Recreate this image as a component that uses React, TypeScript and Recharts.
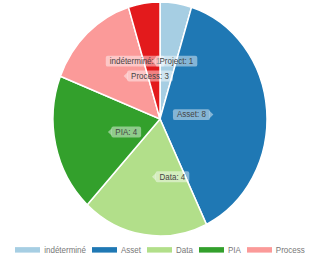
import React from 'react';
import { PieChart, Pie, Cell, Legend } from 'recharts';

const categories = ['indéterminé', 'Asset', 'Data', 'PIA', 'Process', 'Project'];
const counts = [1, 8, 4, 4, 3, 1];
const colors = ['#a6cee3', '#1f78b4', '#b2df8a', '#33a02c', '#fb9a99', '#e31a1c'];
// only the first legend row is visible in the reference, Project wraps off the bottom
const legendShown = 5;

const data = categories.map((name, i) => ({ name, value: counts[i] }));

// the reference picture is stretched vertically a little
const SCALE_Y = 1.0935;
const FONT = '"Liberation Sans", Arial, sans-serif';
const RAD = Math.PI / 180;

let ctx: CanvasRenderingContext2D | null = null;
function textWidth(s: string, size: number) {
  if (!ctx) ctx = document.createElement('canvas').getContext('2d');
  if (!ctx) return s.length * size * 0.5;
  ctx.font = `${size}px ${FONT}`;
  return ctx.measureText(s).width;
}

// tooltip-like label with a caret pointing at the slice centroid
function renderLabel(props: any) {
  const { cx, cy, midAngle, innerRadius, outerRadius, name, value } = props;
  const r = (innerRadius + outerRadius) / 2;
  const px = cx + r * Math.cos(-midAngle * RAD);
  const py = cy + r * Math.sin(-midAngle * RAD);
  const text = `${name}: ${value}`;
  const fs = 8;
  const w = textWidth(text, fs) + 8;
  const h = 10;
  const caret = 3.5;
  const left = px <= cx;
  const bx = left ? px + caret : px - caret - w;
  const by = py - h / 2;
  const tip = left
    ? `M${px},${py} L${px + caret + 0.5},${py - caret} L${px + caret + 0.5},${py + caret} Z`
    : `M${px},${py} L${px - caret - 0.5},${py - caret} L${px - caret - 0.5},${py + caret} Z`;
  return (
    <g>
      <rect x={bx} y={by} width={w} height={h} rx={2} fill="rgba(255,255,255,0.45)" />
      <path d={tip} fill="rgba(255,255,255,0.45)" />
      <text
        x={bx + w / 2}
        y={py + 0.5}
        textAnchor="middle"
        dominantBaseline="middle"
        fontSize={fs}
        fontFamily={FONT}
        fill="#444"
      >
        {text}
      </text>
    </g>
  );
}

function renderLegend() {
  return (
    <div
      style={{
        display: 'flex',
        justifyContent: 'center',
        columnGap: 6,
        fontFamily: FONT,
        fontSize: 8,
        color: '#777',
        lineHeight: '9px',
      }}
    >
      {categories.slice(0, legendShown).map((name, i) => (
        <div key={name} style={{ display: 'flex', alignItems: 'center' }}>
          <span
            style={{
              display: 'inline-block',
              width: 25,
              height: 5.5,
              background: colors[i],
              marginRight: 4,
            }}
          />
          <span>{name}</span>
        </div>
      ))}
    </div>
  );
}

export default function App() {
  return (
    <div
      style={{
        position: 'absolute',
        left: 0,
        top: 0,
        width: 320,
        height: 255,
        overflow: 'hidden',
        background: '#fff',
      }}
    >
      <div style={{ width: 320, height: 233, transform: `scaleY(${SCALE_Y})`, transformOrigin: '0 0' }}>
        <PieChart width={320} height={233} margin={{ top: 0, right: 0, bottom: 0, left: 0 }}>
          <Pie
            data={data}
            dataKey="value"
            nameKey="name"
            cx={160}
            cy={108.8}
            outerRadius={107}
            startAngle={90}
            endAngle={-270}
            stroke="#fff"
            strokeWidth={1.5}
            label={renderLabel}
            labelLine={false}
            isAnimationActive={false}
          >
            {data.map((d, i) => (
              <Cell key={d.name} fill={colors[i]} />
            ))}
          </Pie>
          <Legend
            content={renderLegend}
            wrapperStyle={{ top: 224, left: 0, width: 320, bottom: 'auto' }}
          />
        </PieChart>
      </div>
    </div>
  );
}
